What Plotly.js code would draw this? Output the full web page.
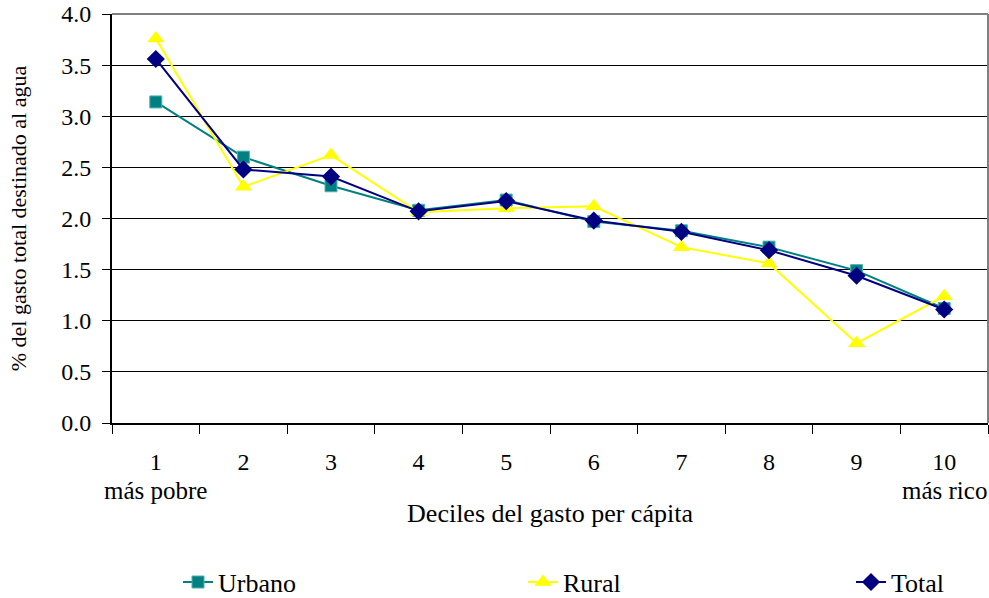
<!DOCTYPE html>
<html>
<head>
<meta charset="utf-8">
<script src="https://cdn.plot.ly/plotly-3.0.1.min.js"></script>
<style>html,body{margin:0;padding:0;background:#fff;}#chart{width:989px;height:598px;}</style>
</head>
<body>
<div id="chart"></div>
<script>
var deciles = [1, 2, 3, 4, 5, 6, 7, 8, 9, 10];
var decileLabels = ["1", "2", "3", "4", "5", "6", "7", "8", "9", "10"];
var urbano = [3.14, 2.60, 2.32, 2.08, 2.18, 1.97, 1.88, 1.72, 1.49, 1.12];
var rural  = [3.76, 2.31, 2.62, 2.06, 2.10, 2.12, 1.72, 1.56, 0.78, 1.24];
var total  = [3.56, 2.48, 2.41, 2.07, 2.17, 1.98, 1.87, 1.69, 1.44, 1.11];

function f(size) { return {family: "Liberation Serif", size: size, color: "#000"}; }

var traces = [
  {x: deciles, y: urbano, name: "Urbano", type: "scatter", mode: "lines+markers", legend: "legend",
   line: {color: "#008080", width: 2},
   marker: {symbol: "square", size: 12, color: "#008080", line: {color: "#4fb0b0", width: 1}}},
  {x: deciles, y: rural, name: "Rural", type: "scatter", mode: "lines+markers", legend: "legend2",
   line: {color: "#FFFF00", width: 2},
   marker: {symbol: "triangle-up", size: 15, color: "#FFFF00"}},
  {x: deciles, y: total, name: "Total", type: "scatter", mode: "lines+markers", legend: "legend3",
   line: {color: "#000080", width: 2},
   marker: {symbol: "diamond", size: 14, color: "#000080"}}
];

function leg(px) {
  return {orientation: "h", x: (px - 112) / 876, xanchor: "left", y: -0.389, yanchor: "middle",
          font: f(26), bgcolor: "rgba(0,0,0,0)"};
}

var layout = {
  width: 989, height: 598,
  margin: {l: 112, r: 1, t: 14, b: 175, autoexpand: false},
  paper_bgcolor: "#fff", plot_bgcolor: "#fff",
  font: f(24),
  showlegend: true,
  legend: leg(178),
  legend2: leg(523),
  legend3: leg(851),
  xaxis: {
    range: [0.5, 10.5], tickvals: deciles, ticktext: decileLabels,
    ticks: "", showgrid: false, zeroline: false,
    showline: true, linecolor: "#000", linewidth: 2,
    ticklabelstandoff: 16,
    minor: {tick0: 0.5, dtick: 1, ticks: "outside", ticklen: 9, tickcolor: "#000", tickwidth: 1, showgrid: false},
    title: {text: "Deciles del gasto per cápita", font: f(26), standoff: 30},
    tickfont: f(24)
  },
  yaxis: {
    range: [0, 4], dtick: 0.5, tick0: 0, tickformat: ".1f",
    ticks: "outside", ticklen: 8, tickcolor: "#000", tickwidth: 1,
    showgrid: true, gridcolor: "#000", gridwidth: 1, zeroline: false,
    showline: true, linecolor: "#000", linewidth: 2,
    ticklabelstandoff: 6,
    title: {text: "% del gasto total destinado al agua", font: f(22), standoff: 29},
    tickfont: f(24)
  },
  shapes: [
    {type: "line", xref: "paper", yref: "paper", x0: 0, x1: 1, y0: 1, y1: 1, line: {color: "#808080", width: 2}},
    {type: "line", xref: "paper", yref: "paper", x0: 1, x1: 1, y0: 0, y1: 1, line: {color: "#808080", width: 2}}
  ],
  annotations: [
    {text: "más pobre", xref: "x", x: 1, yref: "paper", y: -0.166, yanchor: "middle", xanchor: "center", showarrow: false, font: f(25)},
    {text: "más rico", xref: "x", x: 10, yref: "paper", y: -0.166, yanchor: "middle", xanchor: "center", showarrow: false, font: f(25)}
  ]
};

Plotly.newPlot("chart", traces, layout, {displayModeBar: false, staticPlot: true});
</script>
</body>
</html>
